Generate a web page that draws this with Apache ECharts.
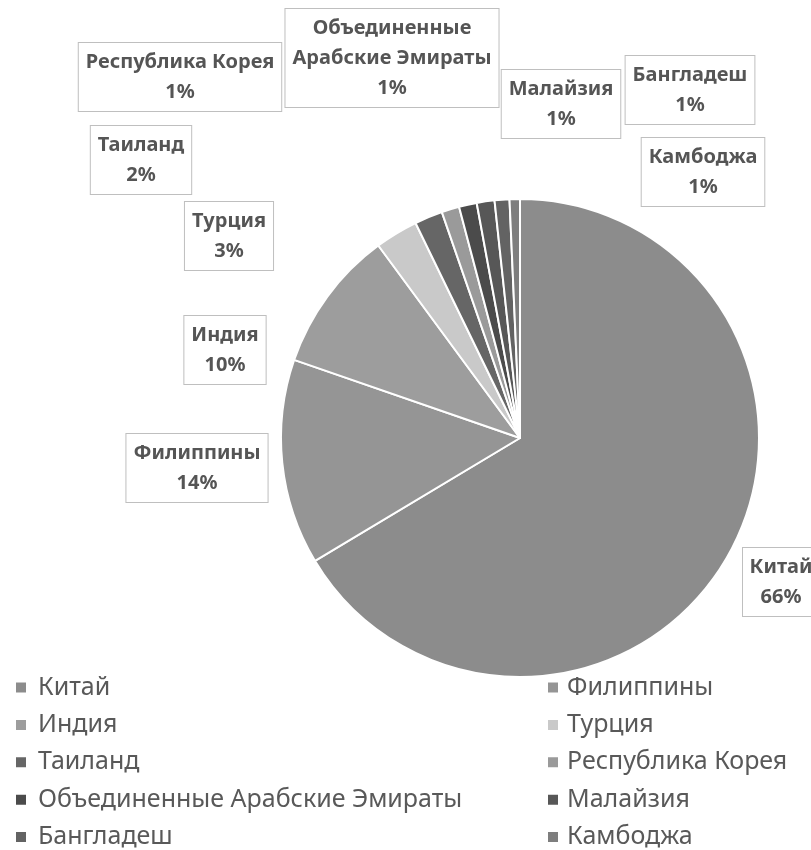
<!DOCTYPE html>
<html>
<head>
<meta charset="utf-8">
<script src="https://cdn.jsdelivr.net/npm/echarts@6/dist/echarts.min.js"></script>
<style>html,body{margin:0;padding:0;background:#fff}#c{width:811px;height:850px}</style>
</head>
<body>
<div id="c"></div>
<script>
var categories = ['Китай','Филиппины','Индия','Турция','Таиланд','Республика Корея','Объединенные Арабские Эмираты','Малайзия','Бангладеш','Камбоджа'];
var values = [66.4, 13.9, 9.6, 2.9, 1.9, 1.2, 1.2, 1.2, 1.0, 0.7];
var colors = ['#8c8c8c','#959595','#9d9d9d','#c9c9c9','#666666','#9a9a9a','#4b4b4b','#575757','#636363','#7e7e7e'];
var labelNames = ['Китай','Филиппины','Индия','Турция','Таиланд','Республика Корея','Объединенные\nАрабские Эмираты','Малайзия','Бангладеш','Камбоджа'];
var leftLegend = ['Китай','Индия','Таиланд','Объединенные Арабские Эмираты','Бангладеш'];
var rightLegend = ['Филиппины','Турция','Республика Корея','Малайзия','Камбоджа'];

// label box centres (layout)
var labelPos = [[781,582],[197,468],[225,350],[229,236],[141,160],[180,77],[392,58],[561,104],[690,90],[703,172]];

var chart = echarts.init(document.getElementById('c'), null, {renderer:'canvas'});
var legendTextL = {fontFamily:'Noto Sans', fontSize:25, color:'#595959', padding:[0,0,0,6]};
var legendTextR = {fontFamily:'Noto Sans', fontSize:25, color:'#595959', padding:[0,0,0,3]};
var option = {
  animation:false,
  color: colors,
  legend:[
    {data:leftLegend, orient:'vertical', left:14, top:675, height:175, padding:0, icon:'rect', itemWidth:12, itemHeight:12, itemGap:12.4, textStyle:legendTextL, selectedMode:false},
    {data:rightLegend, orient:'vertical', left:546, top:675, height:175, padding:0, icon:'rect', itemWidth:12, itemHeight:12, itemGap:12.4, textStyle:legendTextR, selectedMode:false}
  ],
  series:[{
    type:'pie',
    center:[520,438],
    radius:[0,239],
    startAngle:90,
    clockwise:true,
    itemStyle:{borderColor:'#fff', borderWidth:2},
    label:{
      show:true,
      position:'outside',
      overflow:'none',
      fontFamily:'Noto Sans',
      fontWeight:'bold',
      fontSize:20,
      lineHeight:30,
      color:'#555555',
      backgroundColor:'#fff',
      borderColor:'#bfbfbf',
      borderWidth:1,
      padding:[4,7],
      align:'center',
      formatter:function(p){ return labelNames[p.dataIndex] + '\n' + Math.round(p.percent) + '%'; }
    },
    labelLine:{show:false},
    labelLayout:function(p){ var q = labelPos[p.dataIndex]; return {x:q[0], y:q[1], align:'center', verticalAlign:'middle'}; },
    emphasis:{disabled:true},
    data: categories.map(function(c,i){
      var d = {name:c, value:values[i]};
      if (i === 0) d.label = {width:62};
      return d;
    })
  }]
};
chart.setOption(option);
</script>
</body>
</html>
